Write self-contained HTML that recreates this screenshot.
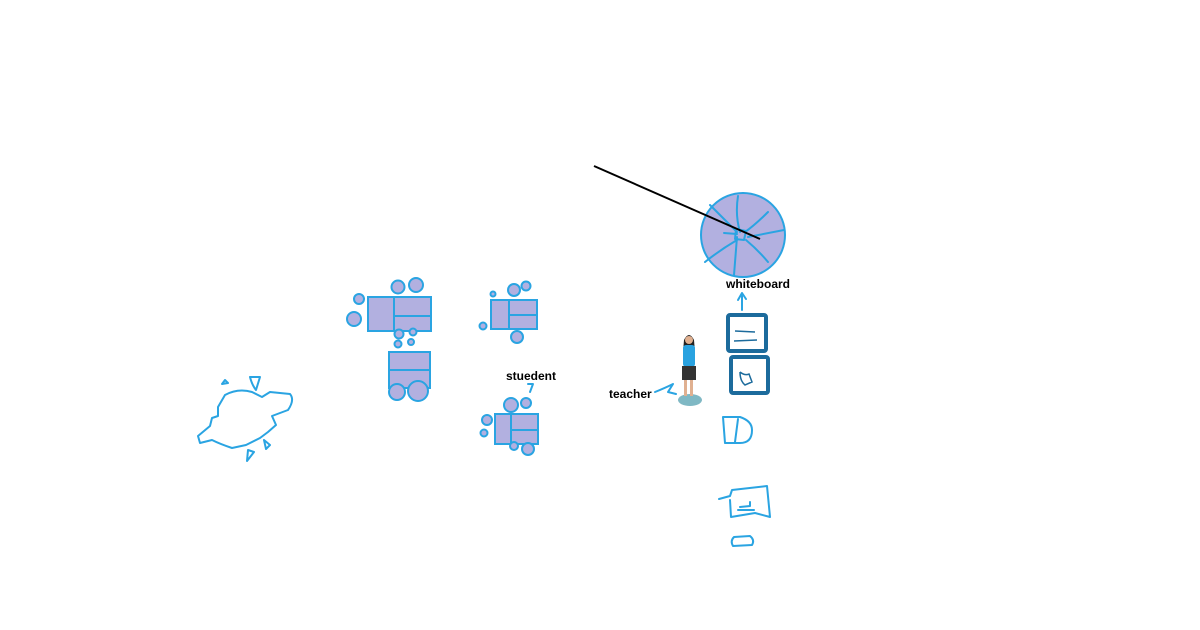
<!DOCTYPE html>
<html><head><style>html,body{margin:0;background:#fff;width:1200px;height:630px;overflow:hidden}</style></head>
<body>
<svg width="1200" height="630" xmlns="http://www.w3.org/2000/svg" font-family="Liberation Sans, sans-serif">
<g fill="#b2b0e0" stroke="#2aa4e2" stroke-width="2">
<!-- group1 -->
<rect x="368" y="297" width="26" height="34"/><rect x="394" y="297" width="37" height="19"/><rect x="394" y="316" width="37" height="15"/>
<circle cx="398" cy="287" r="6.5"/><circle cx="416" cy="285" r="7"/><circle cx="359" cy="299" r="5"/><circle cx="354" cy="319" r="7"/>
<circle cx="399" cy="334" r="4.5"/><circle cx="413" cy="332" r="3.5"/><circle cx="398" cy="344" r="3.5"/><circle cx="411" cy="342" r="3"/>
<!-- group2 -->
<rect x="389" y="352" width="41" height="18"/><rect x="389" y="370" width="41" height="18"/>
<circle cx="397" cy="392" r="8"/><circle cx="418" cy="391" r="10"/>
<!-- group3 -->
<rect x="491" y="300" width="18" height="29"/><rect x="509" y="300" width="28" height="15"/><rect x="509" y="315" width="28" height="14"/>
<circle cx="514" cy="290" r="6"/><circle cx="526" cy="286" r="4.5"/><circle cx="493" cy="294" r="2.5"/><circle cx="483" cy="326" r="3.5"/><circle cx="517" cy="337" r="6"/>
<!-- group4 -->
<rect x="495" y="414" width="16" height="30"/><rect x="511" y="414" width="27" height="16"/><rect x="511" y="430" width="27" height="14"/>
<circle cx="511" cy="405" r="7"/><circle cx="526" cy="403" r="5"/><circle cx="487" cy="420" r="5"/><circle cx="484" cy="433" r="3.5"/><circle cx="514" cy="446" r="4"/><circle cx="528" cy="449" r="6"/>
<!-- whiteboard -->
<circle cx="743" cy="235" r="42"/>
</g>
<g fill="none" stroke="#2aa4e2" stroke-width="2" stroke-linecap="round" stroke-linejoin="round">
<path d="M710 205 Q725 220 737 232 M738 196 Q735 215 740 232 M768 212 Q755 225 745 232 M724 233 L737 234 M784 230 L748 237 M737 237 L734 275 M746 240 Q758 250 768 262 M737 240 Q720 250 705 262"/>
<path d="M736 229 L746 231 L744 240 L735 239 Z"/>
<path d="M530 392 L533 384 L528 384"/>
<path d="M742 310 L742 296 M738 300 L742 293 L746 299"/>
<path d="M655 392 Q665 388 673 384 L668 392 L676 394"/>
<path d="M723 417 L740 417 Q752 421 752 430 Q752 443 740 443 L725 443 Z M738 419 L735 442"/>
<path d="M719 499 L730 496 L732 490 L767 486 L770 517 L755 513 L731 517 L730 500 M740 507 L750 506 L750 502 M738 510 L754 510"/>
<path d="M734 537 L750 536 Q755 540 752 545 L733 546 Q730 541 734 537 Z"/>
<path d="M225 395 Q238 388 252 392 L262 397 L270 392 L290 394 Q295 400 288 410 L272 416 L276 425 L268 432 L260 438 L246 445 L232 448 Q220 444 212 440 L200 443 L198 436 L210 426 L212 418 L218 416 L218 407 Z"/>
<path d="M222 384 L228 383 L225 380 Z M250 377 L260 377 L256 390 Q252 385 250 377 Z M264 440 L270 445 L266 449 Z M248 450 L254 452 L247 461 Z"/>
</g>
<g fill="none" stroke="#1c6b9c" stroke-width="4">
<rect x="728" y="315" width="38" height="36" rx="2"/><rect x="731" y="357" width="37" height="36" rx="2"/>
</g>
<g stroke="#1c6b9c" stroke-width="1.5" fill="none"><path d="M735 331 L755 332 M734 341 L757 340 M740 372 Q745 376 749 374 L752 382 L745 385 Q740 381 740 372"/></g>
<line x1="594" y1="166" x2="760" y2="239" stroke="#000" stroke-width="2"/>
<!-- teacher -->
<ellipse cx="690" cy="400" rx="12" ry="6" fill="#7fb8c4"/>
<path d="M684 340 Q689 330 694 340 L695 352 L683 352 Z" fill="#222"/>
<rect x="683" y="345" width="12" height="22" rx="3" fill="#29a2e0"/>
<rect x="682" y="366" width="14" height="14" fill="#333"/>
<rect x="684" y="380" width="3" height="16" fill="#e0b090"/><rect x="690" y="380" width="3" height="16" fill="#e0b090"/>
<circle cx="689" cy="340" r="4" fill="#e0b090"/>
<g font-size="12" font-weight="bold" fill="#000">
<text x="506" y="380">stuedent</text>
<text x="726" y="288">whiteboard</text>
<text x="609" y="398">teacher</text>
</g>
</svg>
</body></html>
